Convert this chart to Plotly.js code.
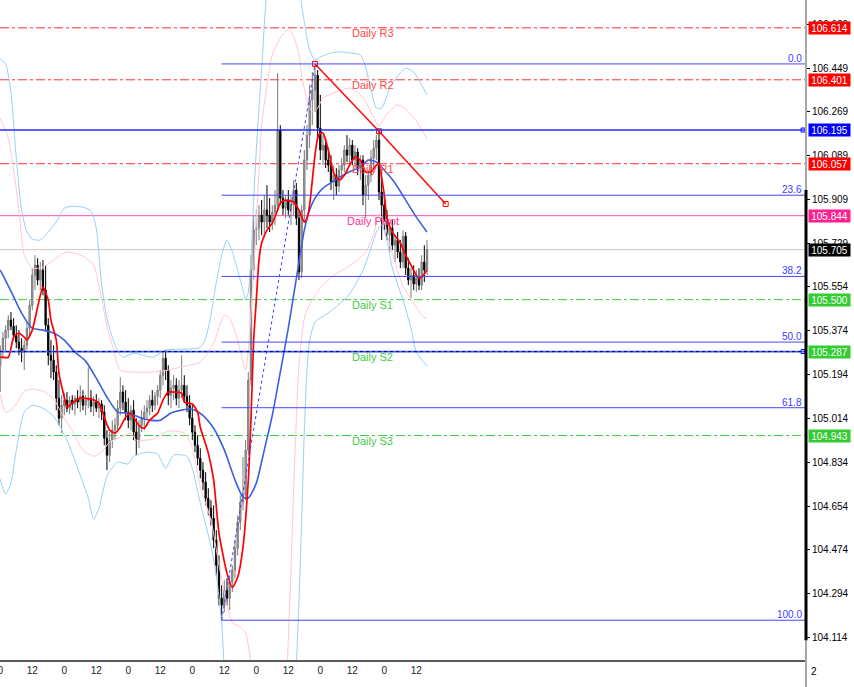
<!DOCTYPE html>
<html><head><meta charset="utf-8">
<script src="https://cdn.plot.ly/plotly-3.0.1.min.js"></script>
<style>html,body{margin:0;padding:0;background:#fff}#chart{width:854px;height:687px}</style>
</head><body><div id="chart"></div>
<script>
// ---- hourly candles (bar index = hours) ----
const barOpen = [
105.231,105.293,105.342,105.375,105.416,105.391,105.354,105.326,105.301,105.285,
105.313,105.383,105.477,105.600,105.641,105.580,105.621,105.539,105.395,105.272,
105.252,105.203,105.096,105.014,105.067,105.088,105.055,105.088,105.072,105.096,
105.080,105.104,105.067,105.088,105.096,105.063,105.080,105.055,105.072,105.039,
104.932,104.862,104.924,104.965,104.985,105.055,105.121,105.080,105.039,105.006,
105.047,104.957,104.924,104.985,105.014,105.039,105.055,105.088,105.067,105.104,
105.129,105.190,105.260,105.211,105.108,105.137,105.149,105.096,105.129,105.149,
105.104,105.067,105.014,104.957,104.903,104.850,104.801,104.752,104.686,104.645,
104.604,104.514,104.411,104.276,104.247,104.309,104.276,104.342,104.391,104.481,
104.588,104.670,104.698,104.883,105.170,105.621,105.785,105.793,105.846,105.818,
105.867,105.846,105.818,105.859,105.887,106.195,105.916,105.875,105.908,105.867,
105.887,105.949,105.834,105.613,105.867,106.072,106.174,106.318,106.359,106.420,
106.203,106.113,106.133,106.072,106.051,105.982,106.010,105.965,106.031,106.051,
106.113,106.092,106.133,106.072,106.105,106.039,106.072,105.928,105.969,106.010,
106.080,106.121,106.154,105.941,105.887,105.818,105.764,105.793,105.723,105.744,
105.695,105.654,105.760,105.629,105.580,105.600,105.564,105.588,105.559,105.654,105.621];
const barHigh = [
105.313,105.367,105.395,105.436,105.449,105.424,105.395,105.375,105.342,105.334,
105.408,105.498,105.629,105.682,105.670,105.654,105.662,105.641,105.424,105.334,
105.313,105.231,105.170,105.108,105.117,105.121,105.104,105.108,105.108,105.129,
105.149,105.129,105.108,105.223,105.129,105.104,105.113,105.096,105.088,105.067,
104.965,104.957,105.006,105.014,105.088,105.182,105.149,105.129,105.096,105.067,
105.088,105.014,105.006,105.047,105.067,105.088,105.108,105.129,105.121,105.149,
105.211,105.285,105.293,105.231,105.170,105.190,105.178,105.170,105.272,105.190,
105.149,105.108,105.067,104.985,104.944,104.891,104.834,104.793,104.727,104.678,
104.657,104.555,104.452,104.329,104.350,104.358,104.370,104.411,104.514,104.616,
104.698,104.854,104.924,105.203,105.682,105.846,105.867,105.887,105.908,105.928,
105.969,105.916,105.887,105.949,106.429,106.215,105.949,105.928,105.949,105.928,
105.990,105.978,105.867,105.887,106.113,106.215,106.380,106.433,106.466,106.441,
106.339,106.174,106.162,106.121,106.092,106.051,106.039,106.051,106.080,106.133,
106.174,106.162,106.154,106.133,106.121,106.092,106.092,106.010,106.031,106.113,
106.154,106.174,106.195,106.031,105.928,105.867,105.818,105.826,105.764,105.777,
105.744,105.785,105.777,105.670,105.629,105.641,105.621,105.629,105.682,105.723,105.744];
const barLow = [
105.121,105.260,105.285,105.342,105.375,105.334,105.301,105.272,105.244,105.211,
105.293,105.354,105.457,105.539,105.559,105.539,105.518,105.375,105.231,105.178,
105.170,105.047,104.985,104.953,105.026,105.039,105.031,105.047,105.026,105.055,
105.039,105.047,105.026,105.055,105.039,105.022,105.039,105.014,105.006,104.903,
104.801,104.834,104.891,104.924,104.957,105.026,105.047,105.006,104.973,104.965,
104.924,104.862,104.891,104.957,104.965,105.006,105.026,105.039,105.047,105.067,
105.096,105.149,105.170,105.067,105.055,105.088,105.067,105.055,105.096,105.080,
105.039,104.985,104.924,104.875,104.821,104.768,104.719,104.657,104.616,104.575,
104.481,104.370,104.247,104.186,104.219,104.247,104.227,104.301,104.358,104.452,
104.555,104.637,104.678,104.862,105.149,105.580,105.723,105.744,105.764,105.752,
105.793,105.777,105.785,105.805,105.867,105.887,105.846,105.834,105.846,105.805,
105.846,105.805,105.580,105.588,105.818,106.031,106.121,106.215,106.269,106.154,
106.072,106.051,106.039,106.023,105.949,105.908,105.928,105.941,105.990,106.023,
106.064,106.051,106.051,106.031,106.010,105.990,105.887,105.834,105.908,105.982,
106.039,106.072,105.908,105.744,105.785,105.744,105.695,105.703,105.654,105.670,
105.629,105.629,105.600,105.559,105.506,105.539,105.531,105.539,105.539,105.572,105.600];
const barClose = [
105.293,105.342,105.375,105.416,105.391,105.354,105.326,105.301,105.285,105.313,
105.383,105.477,105.600,105.641,105.580,105.621,105.539,105.395,105.272,105.252,
105.203,105.096,105.014,105.067,105.088,105.055,105.088,105.072,105.096,105.080,
105.104,105.067,105.088,105.096,105.063,105.080,105.055,105.072,105.039,104.932,
104.862,104.924,104.965,104.985,105.055,105.121,105.080,105.039,105.006,105.047,
104.957,104.924,104.985,105.014,105.039,105.055,105.088,105.067,105.104,105.129,
105.190,105.260,105.211,105.108,105.137,105.149,105.096,105.129,105.149,105.104,
105.067,105.014,104.957,104.903,104.850,104.801,104.752,104.686,104.645,104.604,
104.514,104.411,104.276,104.247,104.309,104.276,104.342,104.391,104.481,104.588,
104.670,104.698,104.883,105.170,105.621,105.785,105.793,105.846,105.818,105.867,
105.846,105.818,105.859,105.887,106.195,105.916,105.875,105.908,105.867,105.887,
105.949,105.834,105.613,105.867,106.072,106.174,106.318,106.359,106.420,106.203,
106.113,106.133,106.072,106.051,105.982,106.010,105.965,106.031,106.051,106.113,
106.092,106.133,106.072,106.105,106.039,106.072,105.928,105.969,106.010,106.080,
106.121,106.154,105.941,105.887,105.818,105.764,105.793,105.723,105.744,105.695,
105.654,105.760,105.629,105.580,105.600,105.564,105.588,105.559,105.654,105.621,105.705];
const barHours = barOpen.map((_, i) => i);

// ---- fast moving average (red) ----
const maFastHours = [0,3,5,7,9,10,12,14,16,18,19,21,22,24,25,27,30,34,37,39,
41,43,45,47,49,50,52,54,56,59,61,63,65,68,69,72,74,75,78,80,
82,85,87,89,91,93,94,95,96,97,98,100,102,104,105,107,110,112,114,115,
116,117,118,119,120,121,123,125,127,129,131,133,135,137,139,141,142,143,144,145,
147,150,152,154,156,157,158,160];
const maFast = [105.264,105.264,105.346,105.363,105.346,105.334,105.375,105.469,105.551,105.498,
105.416,105.334,105.199,105.100,105.059,105.076,105.096,105.092,105.076,105.018,
104.965,104.953,104.977,105.018,105.035,105.018,104.985,104.973,105.006,105.035,
105.088,105.121,105.121,105.117,105.080,105.072,105.039,104.977,104.871,104.761,
104.543,104.379,104.321,104.362,104.485,104.761,105.006,105.334,105.498,105.662,
105.732,105.785,105.814,105.867,105.896,105.908,105.900,105.867,105.818,105.834,
105.887,105.990,106.092,106.162,106.183,106.183,106.113,106.019,105.990,106.010,
106.051,106.084,106.072,106.023,106.023,106.051,106.060,105.998,105.928,105.834,
105.777,105.732,105.682,105.641,105.600,105.588,105.592,105.621];

// ---- slow moving average (blue) ----
const maSlowHours = [0,4,8,12,16,20,24,28,32,36,40,44,48,52,56,60,64,68,72,76,
80,84,88,91,93,96,99,102,105,108,110,112,114,116,118,121,125,130,135,138,141,144,148,152,156,160];
const maSlow = [105.621,105.535,105.445,105.383,105.375,105.363,105.334,105.285,105.248,105.178,
105.100,105.039,105.035,105.018,105.006,105.006,105.035,105.047,105.051,105.026,
104.973,104.884,104.761,104.691,104.687,104.748,104.884,105.026,105.203,105.383,
105.518,105.654,105.785,105.867,105.916,105.957,105.986,106.019,106.043,106.072,
106.064,106.031,105.978,105.908,105.838,105.777];

// ---- outer envelope (light blue) ----
const bandOuterUpHours = [0,2,4,6,8,10,12,15,18,21,24,27,31,34,36,38,40,42,44,46,
50,57,62,66,70,75,77,79,81,83,85,87,89,91,92,93,94,95,96,97,
98,99,100,102,105,108,110,112,113,114,115,116,118,120,124,128,131,135,137,139,
141,143,146,150,152,155,157,160];
const bandOuterUp = [106.486,106.466,106.351,106.080,105.867,105.777,105.748,105.744,105.777,105.818,
105.875,105.883,105.879,105.863,105.793,105.559,105.424,105.346,105.289,105.264,
105.281,105.264,105.293,105.297,105.297,105.305,105.342,105.436,105.572,105.682,
105.744,105.695,105.621,105.539,105.498,105.531,105.662,105.908,106.113,106.285,
106.441,106.626,106.790,107.138,107.466,107.425,107.179,106.810,106.708,106.638,
106.572,106.523,106.482,106.494,106.511,106.515,106.511,106.503,106.453,106.359,
106.285,106.285,106.367,106.429,106.449,106.433,106.400,106.339];
const bandOuterLowHours = [0,2,4,6,9,12,16,20,25,30,33,35,37,40,44,48,50,55,59,62,
65,70,72,75,79,81,83,84,86,90,95,100,105,109,111,112,113,114,115,116,
118,121,124,128,131,136,139,141,143,145,147,151,154,156,160];
const bandOuterLow = [104.764,104.703,104.748,104.883,105.039,105.067,105.055,105.022,104.924,104.780,
104.686,104.600,104.645,104.776,104.834,104.826,104.858,104.875,104.867,104.809,
104.863,104.858,104.809,104.666,104.489,104.370,104.178,103.981,103.612,103.038,
102.628,102.628,103.038,103.612,104.002,104.268,104.596,104.965,105.211,105.334,
105.408,105.432,105.453,105.490,105.523,105.621,105.711,105.777,105.806,105.744,
105.629,105.498,105.383,105.285,105.227];

// ---- inner envelope (pink) ----
const bandInnerUpHours = [0,3,5,7,9,12,16,20,25,31,35,37,40,42,45,49,57,63,69,75,
80,84,86,89,92,93,95,97,98,100,102,105,108,110,112,113,115,117,119,121,
125,131,136,139,142,145,149,152,156,160];
const bandInnerUp = [106.244,106.162,106.031,105.867,105.682,105.629,105.633,105.662,105.695,105.678,
105.641,105.559,105.391,105.313,105.211,105.203,105.203,105.211,105.227,105.244,
105.322,105.436,105.424,105.334,105.211,105.293,105.621,106.031,106.215,106.380,
106.503,106.572,106.609,106.580,106.503,106.420,106.318,106.269,106.285,106.326,
106.347,106.367,106.330,106.269,106.211,106.261,106.298,106.281,106.232,106.158];
const bandInnerLowHours = [0,2,4,6,9,12,16,20,24,27,31,35,38,41,45,49,51,57,63,69,
72,75,79,82,85,87,90,92,94,96,100,104,107,108,109,110,111,112,114,116,
120,124,129,134,137,140,142,144,146,148,151,155,158,160];
const bandInnerLow = [105.109,105.039,105.047,105.072,105.125,105.133,105.125,105.092,105.014,104.961,
104.883,104.858,104.875,104.916,104.936,104.953,104.924,104.928,104.961,104.953,
104.895,104.731,104.596,104.412,104.248,104.178,104.157,104.133,104.002,103.735,
103.366,103.448,103.858,104.104,104.391,104.719,105.006,105.232,105.424,105.482,
105.547,105.592,105.625,105.662,105.695,105.769,105.851,105.818,105.723,105.654,
105.555,105.486,105.436,105.420];

// ---- levels ----
const pivotNames = ['Daily R3','Daily R2','Daily R1','Daily Pivot','Daily S1','Daily S2','Daily S3'];
const pivotValues = [106.614,106.401,106.057,105.844,105.500,105.287,104.943];
const blueLevels = [106.195,105.287];
const bidPrice = 105.705;
const fibLevels = [0.0,23.6,38.2,50.0,61.8,100.0];
const fibHighHour = 118, fibHigh = 106.466;
const fibLowHour = 83, fibLow = 104.186;
const trendHours = [118,142,167];
const trendValues = [106.466,106.190,105.892];
const yTickValues = [106.629,106.449,106.269,106.089,105.909,105.729,105.554,105.374,105.194,105.014,104.834,104.654,104.474,104.294,104.114];
const yTickText = ['106.629','106.449','106.269','106.089','105.909','105.729','105.554','105.374','105.194','105.014','104.834','104.654','104.474','104.294','104.114'];
const xTickValues = [0,12,24,36,48,60,72,84,96,108,120,132,144,156];
const xTickText = ['0','12','0','12','0','12','0','12','0','12','0','12','0','12'];

const X_END = 302.1;
const FONT = 'Liberation Sans, Arial, sans-serif';

const lineTrace = (x, y, color, width, extra) => Object.assign({
  type: 'scatter', mode: 'lines', x, y, hoverinfo: 'skip', showlegend: false,
  line: {color, width, shape: 'spline', smoothing: 0.6}
}, extra || {});

const traces = [
  lineTrace(bandOuterUpHours, bandOuterUp, '#98d0f5', 1),
  lineTrace(bandOuterLowHours, bandOuterLow, '#98d0f5', 1),
  lineTrace(bandInnerUpHours, bandInnerUp, '#ffc8d2', 1),
  lineTrace(bandInnerLowHours, bandInnerLow, '#ffc8d2', 1),
  {type: 'candlestick', x: barHours, open: barOpen, high: barHigh, low: barLow, close: barClose,
   increasing: {line: {color: '#7a7a7a', width: 1}, fillcolor: '#a9a9a9'},
   decreasing: {line: {color: '#000000', width: 1}, fillcolor: '#000000'},
   whiskerwidth: 0, hoverinfo: 'skip', showlegend: false},
  lineTrace(maSlowHours, maSlow, '#3d5fe0', 1.6),
  lineTrace(maFastHours, maFast, '#ff0000', 1.7),
  {type: 'scatter', mode: 'lines', x: [fibLowHour, fibHighHour], y: [fibLow, fibHigh],
   line: {color: '#3b3bff', width: 1, dash: 'dot'}, hoverinfo: 'skip', showlegend: false},
  {type: 'scatter', mode: 'lines+markers', x: trendHours, y: trendValues,
   line: {color: '#ff1010', width: 1.6}, marker: {symbol: 'square-open', size: 5, color: '#ff0000', line: {width: 1}},
   hoverinfo: 'skip', showlegend: false},
  {type: 'scatter', mode: 'markers', x: blueLevels.map(() => 301), y: blueLevels,
   marker: {symbol: 'square-open', size: 4, color: '#0000ff', line: {width: 1}}, hoverinfo: 'skip', showlegend: false}
];

const shapes = [];
const annotations = [];
const pivotLineColors = ['#ff3030','#ff3030','#ff3030','#ff4da6','#44cc44','#44cc44','#44cc44'];
const pivotTextColors = ['#ff4a4a','#ff4a4a','#ff4a4a','#ff3399','#44cc44','#44cc44','#44cc44'];
const pivotBoxColors = ['#ff0000','#ff0000','#ff0000','#ff1f8f','#33cc33','#33cc33','#33cc33'];
pivotNames.forEach((name, i) => {
  shapes.push({type: 'line', xref: 'paper', yref: 'y', x0: 0, x1: 1, y0: pivotValues[i], y1: pivotValues[i], layer: 'below',
    line: {color: pivotLineColors[i], width: 1, dash: name === 'Daily Pivot' ? 'solid' : 'dashdot'}});
  annotations.push({xref: 'x', yref: 'y', x: 139.7, y: pivotValues[i], yanchor: 'top', xanchor: 'center', yshift: 3,
    text: name, showarrow: false, font: {family: FONT, size: 11, color: pivotTextColors[i]}});
});
// bid line
shapes.push({type: 'line', xref: 'paper', yref: 'y', x0: 0, x1: 1, y0: bidPrice, y1: bidPrice, layer: 'below', line: {color: '#c8c8c8', width: 1}});
// blue horizontal lines
shapes.push({type: 'line', xref: 'paper', yref: 'y', x0: 0, x1: 1, y0: blueLevels[0], y1: blueLevels[0], line: {color: '#1f2fff', width: 1.6}});
shapes.push({type: 'line', xref: 'paper', yref: 'y', x0: 0, x1: 1, y0: blueLevels[1], y1: blueLevels[1], line: {color: '#3a5ae8', width: 1.6}});
shapes.push({type: 'line', xref: 'paper', yref: 'y', x0: 0, x1: 1, y0: blueLevels[1], y1: blueLevels[1], line: {color: '#0000a0', width: 1, dash: 'dot'}});
// fibonacci levels
fibLevels.forEach(lv => {
  const v = fibHigh - (fibHigh - fibLow) * lv / 100;
  shapes.push({type: 'line', xref: 'x', yref: 'y', x0: fibLowHour, x1: X_END, y0: v, y1: v, line: {color: '#4646ff', width: 1}});
  annotations.push({xref: 'paper', yref: 'y', x: 1, y: v, xanchor: 'right', yanchor: 'bottom', xshift: -2, yshift: -2,
    text: lv.toFixed(1), showarrow: false, font: {family: FONT, size: 10, color: '#3b3bff'}});
});
// right border
shapes.push({type: 'line', xref: 'paper', yref: 'paper', x0: 1, x1: 1, y0: -0.06, y1: 1, line: {color: '#a8a8a8', width: 2}});
shapes.push({type: 'line', xref: 'paper', yref: 'paper', x0: 1, x1: 1, y0: 0.03, y1: 0.712, line: {color: '#000000', width: 3}});

// price boxes on the axis
const boxLevels = [pivotValues[0], pivotValues[1], blueLevels[0], pivotValues[2], pivotValues[3], bidPrice, pivotValues[4], pivotValues[5], pivotValues[6]];
const boxColors = ['#ff0000','#ff0000','#0000ff','#ff0000','#ff1f8f','#000000','#33cc33','#33cc33','#33cc33'];
boxLevels.forEach((v, i) => {
  annotations.push({xref: 'paper', yref: 'y', x: 1, y: v, xanchor: 'left', yanchor: 'middle', xshift: 2,
    text: v.toFixed(3), showarrow: false, bgcolor: boxColors[i], width: 41, height: 12, borderpad: 0,
    font: {family: FONT, size: 10, color: '#ffffff'}});
});
annotations.push({xref: 'paper', yref: 'paper', x: 1, y: -0.018, xanchor: 'left', yanchor: 'middle', xshift: 3,
  text: '2', showarrow: false, font: {family: FONT, size: 10, color: '#000'}});

const layout = {
  width: 854, height: 687,
  margin: {l: 0, r: 48, t: 0, b: 27, pad: 0},
  paper_bgcolor: '#ffffff', plot_bgcolor: '#ffffff',
  showlegend: false,
  xaxis: {range: [-0.1, X_END], tickvals: xTickValues, ticktext: xTickText, showgrid: false, zeroline: false,
    showline: true, linecolor: '#5a5a5a', linewidth: 2, ticks: '', automargin: false, ticklabeloverflow: 'allow',
    tickfont: {family: FONT, size: 10, color: '#222'}, rangeslider: {visible: false}, fixedrange: true},
  yaxis: {range: [104.023, 106.728], side: 'right', tickvals: yTickValues, ticktext: yTickText,
    showgrid: false, zeroline: false, showline: false, ticks: 'outside', ticklen: 3, tickcolor: '#000',
    automargin: false, tickfont: {family: FONT, size: 10, color: '#000'}, fixedrange: true},
  shapes, annotations
};

Plotly.newPlot('chart', traces, layout, {displayModeBar: false, staticPlot: true});
</script>
</body></html>
